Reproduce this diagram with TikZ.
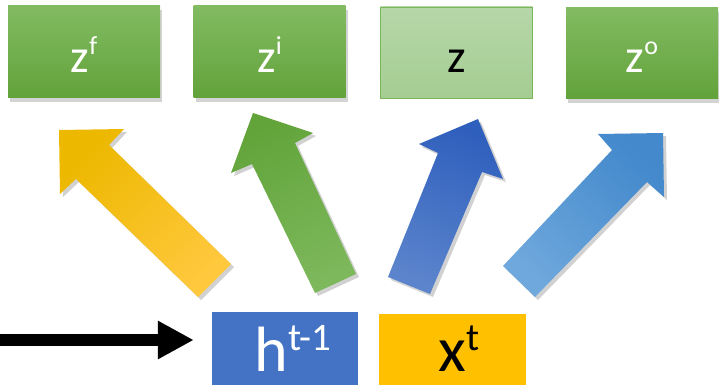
\documentclass[tikz,border=0pt]{standalone}
\usepackage{fontspec}
\setmainfont{Carlito}
\usetikzlibrary{arrows.meta,shadows}
\definecolor{gtop}{HTML}{82BB62}
\definecolor{gbot}{HTML}{62A23A}
\definecolor{ltop}{HTML}{B6D7A8}
\definecolor{lbot}{HTML}{A5CD92}
\definecolor{lborder}{HTML}{7CB65C}
\definecolor{hblue}{HTML}{4472C4}
\definecolor{xgold}{HTML}{FFC000}
\definecolor{ytop}{HTML}{EDB800}
\definecolor{ybot}{HTML}{FFC83D}
\definecolor{grtop}{HTML}{62A43A}
\definecolor{grbot}{HTML}{7DB85C}
\definecolor{btop}{HTML}{2F5FBD}
\definecolor{bbot}{HTML}{5B84CC}
\definecolor{lbtop}{HTML}{4389CC}
\definecolor{lbbot}{HTML}{6FA8DC}
\newcommand{\topsup}[1]{\raisebox{18pt}{\fontsize{26}{26}\selectfont #1}}
\newcommand{\botsup}[1]{\raisebox{21pt}{\fontsize{39}{39}\selectfont #1}}
\begin{document}
\begin{tikzpicture}[x=1pt,y=-1pt,
  gatebase/.style={anchor=base, inner sep=0pt, minimum width=152pt,
    text height=67pt, text depth=25pt, font=\fontsize{47}{47}\selectfont},
  gatebox/.style={gatebase, top color=gtop, bottom color=gbot, text=white,
    drop shadow={shadow xshift=2pt, shadow yshift=-4pt, opacity=0.35}},
  inbox/.style={inner sep=0pt, minimum width=146pt, text depth=0pt,
    font=\fontsize{64}{64}\selectfont},
  arrowshadow/.style={fill=black, opacity=0.18}
]
\useasboundingbox (0,0) rectangle (719,385);

% gate boxes
\node[gatebox] (zf) at (84,73) {z\topsup{f}};
\node[gatebox] (zi) at (269.5,73) {z\topsup{i}};
\node[gatebase, text height=66pt, top color=ltop, bottom color=lbot, draw=lborder, line width=0.8pt, text=black] (z) at (456.5,73) {z};
\node[gatebox, text height=65pt, text depth=26pt] (zo) at (642,73) {z\topsup{o}};

% input boxes
\node[inbox, fill=hblue, text=white, text height=45pt, minimum height=73pt] (h) at (285,348.5) {\hspace*{16pt}h\botsup{t-1}};
\node[inbox, fill=xgold, text=black, text height=43pt, minimum height=71pt, minimum width=147pt] (x) at (452.5,349.5) {\hspace*{13pt}x\botsup{t}};

% incoming black arrow
\coordinate (src) at (0,340);
\draw[line width=12pt, -{Triangle[length=36pt,width=36pt]}, shorten >=18pt] (src) -- (src -| h.west);

% block arrows: shadows
\begin{scope}[shift={(3,3)}]
\fill[arrowshadow] (59,130) -- (124,129) -- (109,145) -- (231,264) -- (198,297) -- (76,179) -- (60,194) -- cycle;
\fill[arrowshadow] (253,113) -- (313,133) -- (295,143) -- (356,274) -- (315,293) -- (252,164) -- (231,173) -- cycle;
\fill[arrowshadow] (478,119) -- (503,179) -- (482,172) -- (430,294) -- (388,277) -- (438,153) -- (419,144) -- cycle;
\fill[arrowshadow] (663,133) -- (664,197) -- (647,182) -- (535,297) -- (503,266) -- (612,150) -- (598,134) -- cycle;
\end{scope}

% block arrows
\shade[top color=ytop, bottom color=ybot, shading angle=45]
  (59,130) -- (124,129) -- (109,145) -- (231,264) -- (198,297) -- (76,179) -- (60,194) -- cycle;
\shade[top color=grtop, bottom color=grbot, shading angle=24]
  (253,113) -- (313,133) -- (295,143) -- (356,274) -- (315,293) -- (252,164) -- (231,173) -- cycle;
\shade[top color=btop, bottom color=bbot, shading angle=-22]
  (478,119) -- (503,179) -- (482,172) -- (430,294) -- (388,277) -- (438,153) -- (419,144) -- cycle;
\shade[top color=lbtop, bottom color=lbbot, shading angle=-44]
  (663,133) -- (664,197) -- (647,182) -- (535,297) -- (503,266) -- (612,150) -- (598,134) -- cycle;
\end{tikzpicture}
\end{document}
